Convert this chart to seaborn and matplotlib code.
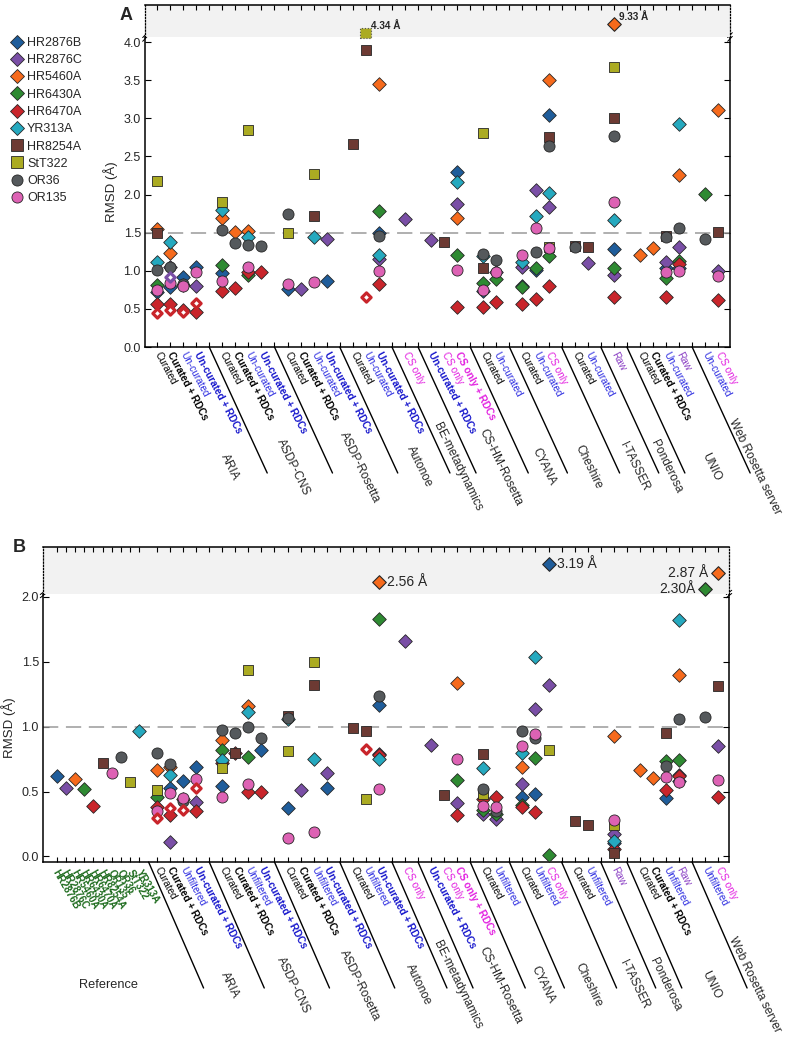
import numpy as np
import pandas as pd
import matplotlib
matplotlib.use("Agg")
import matplotlib.pyplot as plt
import seaborn as sns
from matplotlib.lines import Line2D

sns.set_style("white")
plt.rcParams['font.family'] = ['Liberation Sans', 'DejaVu Sans']

N = np.nan

# ---------------- data ----------------
proteins = ['HR2876B', 'HR2876C', 'HR5460A', 'HR6430A', 'HR6470A',
            'YR313A', 'HR8254A', 'StT322', 'OR36', 'OR135']
colors = ['#1f5d9b', '#7a4fa6', '#f66a1c', '#2e8a32', '#c9252b',
          '#25a9bf', '#6d3a33', '#abab22', '#55595c', '#dd62b4']
markers = ['D', 'D', 'D', 'D', 'D', 'D', 's', 's', 'o', 'o']

groups = ['ARIA', 'ASDP-CNS', 'ASDP-Rosetta', 'Autonoe', 'BE-metadynamics',
          'CS-HM-Rosetta', 'CYANA', 'Cheshire', 'I-TASSER', 'Ponderosa',
          'UNIO', 'Web Rosetta server']
group_sizes = [4, 4, 4, 3, 1, 3, 2, 3, 2, 1, 4, 2]

cond_A = ['Curated', 'Curated + RDCs', 'Un-curated', 'Un-curated + RDCs',
          'Curated', 'Curated + RDCs', 'Un-curated', 'Un-curated + RDCs',
          'Curated', 'Curated + RDCs', 'Un-curated', 'Un-curated + RDCs',
          'Curated', 'Un-curated', 'Un-curated + RDCs',
          'CS only',
          'Un-curated + RDCs', 'CS only', 'CS only + RDCs',
          'Curated', 'Un-curated',
          'Curated', 'Un-curated', 'CS only',
          'Curated', 'Un-curated',
          'Raw',
          'Curated', 'Curated + RDCs', 'Un-curated', 'Raw',
          'Un-curated', 'CS only']
cond_B = [c if c != 'Un-curated' else 'Unfiltered' for c in cond_A]

# Panel A values (one entry per condition in cond_A)
A_vals = {
    'HR2876B': [.72, .79, .92, 1.05, .97, N, N, N, .76, N, N, .87, N, N, 1.50, N, N, N, 2.29,
                .73, N, .80, 1.01, 3.04, N, N, 1.28, N, N, 1.03, 1.04, N, N],
    'HR2876C': [N, 1.05, N, .80, N, N, N, N, N, .76, N, 1.41, N, N, 1.16, 1.68, 1.40, N, 1.88,
                N, .98, 1.05, 2.06, 1.83, N, 1.10, .95, N, N, 1.11, 1.31, N, 1.00],
    'HR5460A': [1.55, 1.23, N, N, 1.69, 1.51, 1.52, N, N, N, N, N, N, N, 3.45, N, N, N, 1.69,
                N, N, N, N, 3.50, N, N, 9.33, 1.21, 1.30, N, 2.25, N, 3.11],
    'HR6430A': [.81, N, .81, N, 1.08, N, .95, N, N, N, N, N, N, N, 1.78, N, N, N, 1.21,
                .84, .89, .79, 1.03, 1.19, N, N, 1.03, N, N, .90, 1.13, 2.01, N],
    'HR6470A': [.56, .57, .49, .46, .73, .77, .99, .99, N, N, N, N, N, N, .82, N, N, N, .53,
                .53, .59, .57, .63, .80, N, N, .65, N, N, .66, 1.09, N, .61],
    'YR313A':  [1.12, 1.38, N, N, 1.80, N, 1.44, N, N, N, 1.44, N, N, N, 1.21, N, N, N, 2.16,
                1.20, N, 1.11, 1.72, 2.02, N, N, 1.66, N, N, N, 2.92, N, N],
    'HR8254A': [1.50, N, N, N, N, N, N, N, N, N, 1.72, N, 2.66, 3.90, N, N, N, 1.38, N,
                1.03, N, N, N, 2.76, 1.32, 1.31, 3.00, N, N, 1.45, N, N, 1.51],
    'StT322':  [2.18, N, N, N, 1.90, N, 2.84, N, 1.49, N, 2.27, N, N, 4.34, N, N, N, N, N,
                2.81, N, N, N, 1.31, N, N, 3.67, N, N, N, N, N, N],
    'OR36':    [1.01, 1.05, .82, N, 1.53, 1.37, 1.34, 1.33, 1.74, N, N, N, N, N, 1.45, N, N, N, N,
                1.22, 1.14, N, 1.24, 2.63, 1.31, N, 2.77, N, N, 1.44, 1.56, 1.41, N],
    'OR135':   [.75, .84, .80, .99, .87, N, 1.05, N, .83, N, .85, N, N, N, 1.00, N, N, N, 1.01,
                .75, .99, 1.21, 1.56, 1.30, N, N, 1.90, N, N, .98, 1.00, N, .93],
}
A_open_red = [.45, .48, .46, .58, N, N, N, N, N, N, N, N, N, .65, N, N, N, N, N,
              N, N, N, N, N, N, N, N, N, N, N, N, N, N]
A_open_purple = [N, .92, N, N, N, N, N, N, N, N, N, N, N, N, N, N, N, N, N,
                 N, N, N, N, N, N, N, N, N, N, N, N, N, N]

# Panel B reference values (one per protein, same order as proteins)
ref_vals = [.62, .53, .60, .52, .39, .97, .72, .57, .77, .64]
ref_labels = ['HR2876B', 'HR2876C', 'HR5460A', 'HR6430A', 'HR6470A',
              'HR8254A', 'OR135', 'OR36', 'StT322', 'YR313A']

B_vals = {
    'HR2876B': [N, .53, .58, .69, .54, N, N, .82, .37, N, N, .53, N, N, 1.17, N, N, N, N,
                N, N, .46, .48, 3.19, N, N, .10, N, N, .45, .58, N, N],
    'HR2876C': [N, .115, N, .42, N, N, N, N, N, .51, N, .645, N, N, .79, 1.66, .86, N, .41,
                .33, .29, .56, 1.14, 1.32, N, N, .17, N, N, N, .63, N, .85],
    'HR5460A': [.67, .69, N, N, .90, N, 1.16, N, N, N, N, N, N, N, 2.56, N, N, N, 1.34,
                N, N, .69, N, N, N, N, .93, .665, .605, N, 1.40, N, 2.87],
    'HR6430A': [.46, N, N, N, .82, N, .77, N, N, N, N, N, N, N, 1.83, N, N, N, .59,
                .36, .33, .40, .76, .01, N, N, N, N, N, .735, .74, 2.30, N],
    'HR6470A': [.38, .32, .44, .35, .72, .80, .50, .50, N, N, N, N, N, N, .78, N, N, N, .32,
                .44, .46, .38, .34, N, N, N, .06, N, N, .51, .62, N, .46],
    'YR313A':  [N, .63, N, N, .74, N, 1.11, N, 1.06, N, .75, N, N, N, .75, N, N, N, N,
                .68, N, .80, 1.54, N, N, N, .12, N, N, N, 1.82, N, N],
    'HR8254A': [N, N, N, N, N, .80, N, N, 1.08, N, 1.32, N, .99, .965, N, N, N, .47, N,
                .79, N, N, N, N, .275, .245, .03, N, N, .95, N, N, 1.31],
    'StT322':  [.51, N, N, N, .68, N, 1.44, N, .81, N, 1.50, N, N, .44, N, N, N, N, N,
                .48, N, N, N, .82, N, N, .245, N, N, N, N, N, N],
    'OR36':    [.80, .71, .43, N, .975, .955, 1.00, .91, 1.07, N, N, N, N, N, 1.24, N, N, N, N,
                .52, .35, .97, .91, N, N, N, N, N, N, .70, 1.06, 1.075, N],
    'OR135':   [.35, .49, .45, .60, .46, N, .56, N, .14, N, .19, N, N, N, .52, N, N, N, .75,
                .39, .38, .85, .94, N, N, N, .28, N, N, .61, .57, N, .59],
}
B_open_red = [.30, .37, .36, .53, N, N, N, N, N, N, N, N, N, .83, N, N, N, N, N,
              N, N, N, N, N, N, N, N, N, N, N, N, N, N]
B_outlier_labels = ['2.56 Å', '3.19 Å', '2.30Å', '2.87 Å']

# ---------------- layout helpers ----------------
slots, last_slots, gap_slots = [], [], []
pos = 0
for gi, n in enumerate(group_sizes):
    for k in range(n):
        slots.append(pos)
        pos += 1
    last_slots.append(pos - 1)
    if gi < len(group_sizes) - 1:
        gap_slots.append(pos)
        pos += 1
slots = np.array(slots, dtype=float)
all_slots = np.arange(pos)

# horizontal offset (px) of each group name's centre from its last tick
group_label_dx = [34, 32, 33, 40, 53, 43, 47, 40, 47, 52, 32, 36]

ref_step = 0.705
ref_x = -1.35 - ref_step * (len(ref_vals) - 1 - np.arange(len(ref_vals)))

label_style = {
    'Curated': ('black', 'normal'),
    'Curated + RDCs': ('black', 'bold'),
    'Un-curated': ('#2a2ae0', 'normal'),
    'Unfiltered': ('#2a2ae0', 'normal'),
    'Un-curated + RDCs': ('#1515cc', 'bold'),
    'CS only': ('#e21fe0', 'normal'),
    'CS only + RDCs': ('#e21fe0', 'bold'),
    'Raw': ('#8a3fc4', 'normal'),
}

W, H = 787, 1038
PT = 0.72  # points per pixel at dpi 100
fig = plt.figure(figsize=(W / 100, H / 100), dpi=100)


def fx(p):
    return p / W


def fy(p):
    return 1 - p / H


axA = fig.add_axes([fx(145), fy(347), (730 - 145) / W, (347 - 37) / H])
axAt = fig.add_axes([fx(145), fy(37), (730 - 145) / W, (37 - 5) / H])
axB = fig.add_axes([fx(43), fy(862), (729 - 43) / W, (862 - 594) / H])
axBt = fig.add_axes([fx(43), fy(594), (729 - 43) / W, (594 - 547) / H])

EDGE = '#262626'
size_of = {'D': 48, 's': 62, 'o': 64}


def scatter_series(ax, axt, xs, vals, brk, color, marker, top_ls='-'):
    df = pd.DataFrame({'x': xs, 'y': vals}).dropna()
    lo = df[df.y <= brk]
    hi = df[df.y > brk]
    if len(lo):
        sns.scatterplot(data=lo, x='x', y='y', ax=ax, color=color, marker=marker,
                        s=size_of[marker], edgecolor=EDGE, linewidth=0.6,
                        legend=False, zorder=3, clip_on=False)
    if len(hi):
        sns.scatterplot(data=hi, x='x', y='y', ax=axt, color=color, marker=marker,
                        s=size_of[marker], edgecolor=EDGE if top_ls == '-' else '#555555',
                        linewidth=0.8, linestyle=top_ls,
                        legend=False, zorder=3, clip_on=False)
    return hi


def open_series(ax, xs, vals, color):
    df = pd.DataFrame({'x': xs, 'y': vals}).dropna()
    sns.scatterplot(data=df, x='x', y='y', ax=ax, color='white', marker='D',
                    s=22, edgecolor=color, linewidth=2.3, legend=False,
                    zorder=4, clip_on=False)


def style_axes(ax, axt, xlim, ylim, tlim, yticks, hline, cond, extra_ticks=()):
    ax.set_xlim(*xlim)
    axt.set_xlim(*xlim)
    ax.set_ylim(*ylim)
    axt.set_ylim(*tlim)
    ax.axhline(hline, color='#9a9a9a', lw=1.1, dashes=(10, 5), zorder=1)
    ax.set_yticks(yticks)
    ax.set_yticklabels([f'{t:.1f}' for t in yticks], fontsize=9)
    ax.set_xticks(slots)
    ax.set_xticks(np.concatenate([np.array(gap_slots, float), np.array(extra_ticks, float)]),
                  minor=True)
    ax.set_xticklabels(cond, rotation=-62, ha='left', va='center',
                       rotation_mode='anchor', fontsize=7.2)
    for t, c in zip(ax.get_xticklabels(), cond):
        col, wt = label_style[c]
        t.set_color(col)
        t.set_fontweight(wt)
    ax.tick_params(axis='x', which='both', direction='in', length=3.5, width=0.8,
                   bottom=True, top=False, pad=4, color='black')
    ax.tick_params(axis='y', which='major', direction='in', length=4, width=0.8,
                   left=True, right=True, labelleft=True, pad=3, color='black')
    ax.set_xlabel('')
    ax.set_ylabel('RMSD (Å)', fontsize=9.5, labelpad=4)
    for s in ['left', 'right', 'bottom']:
        ax.spines[s].set_color('black')
        ax.spines[s].set_linewidth(1.1)
    ax.spines['top'].set_visible(False)

    axt.set_facecolor('#f2f2f2')
    axt.set_xticks(np.concatenate([all_slots.astype(float), np.array(extra_ticks, float)]))
    axt.set_yticks([])
    axt.tick_params(axis='x', which='both', direction='in', length=3.5, width=0.8,
                    top=True, bottom=False, labeltop=False, labelbottom=False, color='black')
    axt.set_xlabel('')
    axt.set_ylabel('')
    axt.spines['bottom'].set_visible(False)
    axt.spines['top'].set_linewidth(1.1)
    axt.spines['top'].set_color('black')
    for s in ['left', 'right']:
        axt.spines[s].set_linestyle((0, (1, 1.5)))
        axt.spines[s].set_color('black')
        axt.spines[s].set_linewidth(0.9)
    # small break marks
    for xa in (0, 1):
        for dy in (-0.006, 0.006):
            ax.plot([xa - 0.004, xa + 0.004], [1 + dy - 0.008, 1 + dy + 0.008],
                    transform=ax.transAxes, color='black', lw=0.7, clip_on=False)


def separators(ax, gaps, dx_px, dy_px):
    for g in gaps:
        ax.annotate('', xy=(g, 0), xycoords=ax.get_xaxis_transform(),
                    xytext=(dx_px * PT, -dy_px * PT), textcoords='offset points',
                    arrowprops=dict(arrowstyle='-', color='black', lw=1.0,
                                    shrinkA=0, shrinkB=0),
                    annotation_clip=False)


def group_names(ax, dy_px):
    for name, ls, dx in zip(groups, last_slots, group_label_dx):
        ax.annotate(name, xy=(ls, 0), xycoords=ax.get_xaxis_transform(),
                    xytext=(dx * PT, -dy_px * PT), textcoords='offset points',
                    rotation=-64, rotation_mode='anchor', ha='center', va='center',
                    fontsize=8.6, annotation_clip=False)


# ---------------- Panel A ----------------
brkA = 4.066
for p, c, m in zip(proteins, colors, markers):
    hi = scatter_series(axA, axAt, slots, A_vals[p], brkA, c, m,
                        top_ls=':' if m == 's' else '-')
    for _, r in hi.iterrows():
        axAt.annotate(f'{r.y:.2f} Å', xy=(r.x, r.y), xytext=(4, 5),
                      textcoords='offset points', ha='left', va='center',
                      fontsize=7.2, fontweight='bold')
open_series(axA, slots, A_open_red, '#c9252b')
open_series(axA, slots, A_open_purple, '#7a4fa6')

style_axes(axA, axAt, (-0.92, 43.9), (0, brkA), (2.07, 20.2),
           np.arange(0, 4.01, 0.5), 1.5, cond_A)
separators(axA, gap_slots, 58, 126)
group_names(axA, 120)

handles = [Line2D([], [], ls='', marker=m, color=c, mec=EDGE, mew=0.6,
                  ms=(7.0 if m == 'D' else 8.0)) for c, m in zip(colors, markers)]
fig.legend(handles, proteins, loc='upper left', bbox_to_anchor=(fx(4), fy(32)),
           frameon=False, fontsize=9, handletextpad=0.15, labelspacing=0.42,
           borderaxespad=0, handlelength=1.3)

fig.text(fx(126), fy(16), 'A', fontsize=13, fontweight='bold', ha='center', va='center')

# ---------------- Panel B ----------------
brkB = 2.023
hi_all = []
for i, (p, c, m) in enumerate(zip(proteins, colors, markers)):
    ri = ref_labels.index(p)
    sns.scatterplot(x=[ref_x[ri]], y=[ref_vals[i]], ax=axB, color=c, marker=m,
                    s=size_of[m], edgecolor=EDGE, linewidth=0.6, legend=False,
                    zorder=3, clip_on=False)
    hi = scatter_series(axB, axBt, slots, B_vals[p], brkB, c, m)
    hi_all += [(r.x, r.y) for _, r in hi.iterrows()]
open_series(axB, slots, B_open_red, '#c9252b')
for (x, y), lab in zip(sorted(hi_all), B_outlier_labels):
    right = x < 41
    axBt.annotate(lab, xy=(x, y), xytext=(6 if right else -7, 0),
                  textcoords='offset points', ha='left' if right else 'right',
                  va='center', fontsize=10)

style_axes(axB, axBt, (-8.74, 43.83), (-0.043, brkB), (2.12, 3.79),
           np.arange(0, 2.01, 0.5), 1.0, cond_B, extra_ticks=ref_x)
# reference tick labels (green)
for x, lab in zip(ref_x, ref_labels):
    axB.annotate(lab, xy=(x, 0), xycoords=axB.get_xaxis_transform(),
                 xytext=(-1, -6), textcoords='offset points', rotation=-60,
                 rotation_mode='anchor', ha='left', va='center', fontsize=7.2,
                 fontweight='bold', color='#1d6b1d', annotation_clip=False)
separators(axB, [-0.65] + gap_slots, 55, 126)
group_names(axB, 123)
axB.annotate('Reference', xy=(ref_x.mean(), 0), xycoords=axB.get_xaxis_transform(),
             xytext=(10 * PT, -123 * PT), textcoords='offset points',
             ha='center', va='center', fontsize=9.2, annotation_clip=False)

fig.text(fx(19), fy(548), 'B', fontsize=13, fontweight='bold', ha='center', va='center')

fig.savefig('out.png', dpi=100)
